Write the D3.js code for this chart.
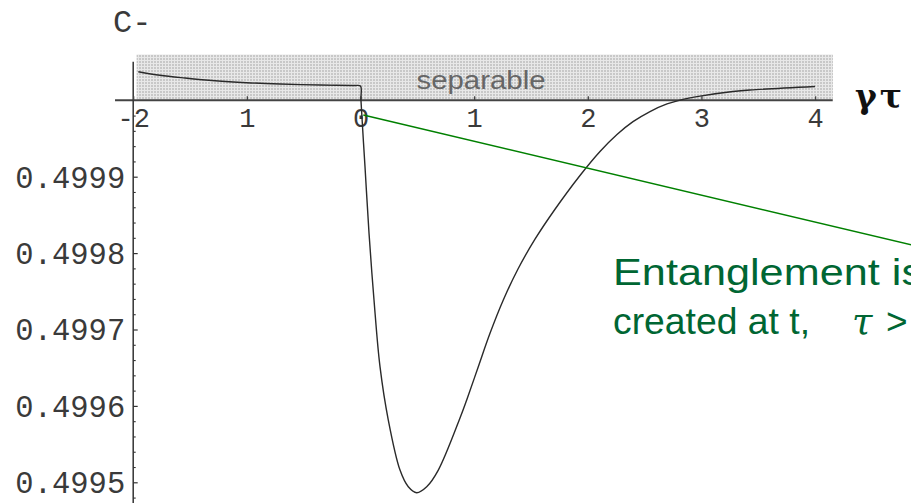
<!DOCTYPE html>
<html>
<head>
<meta charset="utf-8">
<script src="https://cdn.jsdelivr.net/npm/d3@7"></script>
<style>
  html, body { margin: 0; padding: 0; background: #fff; }
  svg { display: block; }
</style>
</head>
<body>
<svg id="chart" width="911" height="503"></svg>
<script>
// C- as a function of gamma*tau
const gammaTau = [-1.9551, -1.7642, -1.5442, -1.2803, -1.0013, -0.7083, -0.3564,
  -0.0484, 0, 0.004,
  0.0396, 0.0748, 0.1188, 0.1716, 0.2446, 0.3476, 0.4206, 0.4945, 0.5825,
  0.6846, 0.8755, 0.9345, 1.0365, 1.1395, 1.2565, 1.3858, 1.5354, 1.7114,
  1.9314, 2.1074, 2.2569, 2.3977, 2.5473, 2.6969, 2.8113, 2.9873, 3.2776,
  3.4272, 3.999];
const cMinus = [0.5000374, 0.5000327, 0.5000291, 0.5000255, 0.5000230, 0.5000213,
  0.5000200, 0.5000194, 0.5000187, 0.5000000,
  0.4999131, 0.4998263, 0.4997386, 0.4996513, 0.4995815, 0.4995160, 0.4994942,
  0.4994864, 0.4994942, 0.4995160, 0.4995841, 0.4996077, 0.4996513, 0.4996950,
  0.4997386, 0.4997792, 0.4998182, 0.4998574, 0.4999016, 0.4999330, 0.4999552,
  0.4999720, 0.4999853, 0.4999952, 0.5000003, 0.5000055, 0.5000115, 0.5000135,
  0.5000181];

// axis ticks
const xTickValues = [-2, -1, 0, 1, 2, 3, 4];
const xTickLabels = ["-2", "1", "0", "1", "2", "3", "4"];
const yTickValues = [0.4995, 0.4996, 0.4997, 0.4998, 0.4999];
const yTickLabels = ["0.4995", "0.4996", "0.4997", "0.4998", "0.4999"];
const yMinorValues = d3.range(0, 28).map(i => +(0.49944 + i * 0.00002).toFixed(5))
  .filter(v => Math.abs((v * 1e4) - Math.round(v * 1e4)) > 1e-6);

// separable band (C- above 1/2)
const bandTau = [-1.97, 4.157];
const bandC = [0.5, 0.50006];

// annotation arrow from the text to the origin
const noteTau = [0.025, 5.2];
const noteC = [0.4999808, 0.4997983];
const noteLine1 = "Entanglement is";
const noteLine2 = ["created at t,", "τ", ">"];

const svg = d3.select("#chart");

const x = d3.scaleLinear().domain([-2, 4]).range([133.2, 815.1]);
const y = d3.scaleLinear().domain([0.4995, 0.5]).range([482.3, 100.3]);

// hatched fill for the separable region
const defs = svg.append("defs");
const pat = defs.append("pattern")
  .attr("id", "grid").attr("patternUnits", "userSpaceOnUse")
  .attr("width", 3).attr("height", 3);
pat.append("rect").attr("width", 3).attr("height", 3).attr("fill", "#c8c8c8");
pat.append("rect").attr("width", 3).attr("height", 1).attr("fill", "#e8e8e8");
pat.append("rect").attr("width", 1).attr("height", 3).attr("fill", "#e8e8e8");

svg.append("rect")
  .attr("x", x(bandTau[0])).attr("y", y(bandC[1]))
  .attr("width", x(bandTau[1]) - x(bandTau[0]))
  .attr("height", y(bandC[0]) - y(bandC[1]))
  .attr("fill", "url(#grid)");

svg.append("text")
  .attr("x", 416.5).attr("y", 88.5)
  .attr("font-family", "Liberation Sans, Arial, sans-serif")
  .attr("font-size", 26)
  .attr("fill", "#666")
  .attr("textLength", 129).attr("lengthAdjust", "spacingAndGlyphs")
  .text("separable");

// axis lines
svg.append("line")
  .attr("x1", x(-2.16)).attr("x2", x(4.155))
  .attr("y1", y(0.5)).attr("y2", y(0.5))
  .attr("stroke", "#444").attr("stroke-width", 2);
svg.append("line")
  .attr("x1", x(-2)).attr("x2", x(-2))
  .attr("y1", y(0.5000505)).attr("y2", y(0.49944))
  .attr("stroke", "#333").attr("stroke-width", 1.5);

const mono = "Liberation Mono, Courier New, monospace";

// x axis ticks pointing up, labels below
const xAxis = d3.axisBottom(x)
  .tickValues(xTickValues)
  .tickSizeInner(-4).tickSizeOuter(0)
  .tickPadding(27)
  .tickFormat((d, i) => xTickLabels[i]);
const gx = svg.append("g").attr("transform", `translate(0,${y(0.5)})`).call(xAxis);
gx.select(".domain").remove();
gx.selectAll(".tick line").attr("stroke", "#444").attr("stroke-width", 1.3);
gx.selectAll(".tick text")
  .attr("font-family", mono).attr("font-size", 27).attr("fill", "#3a3a3a")
  .attr("dy", 0);

// y axis ticks pointing right, labels on the left
const yAxis = d3.axisLeft(y)
  .tickValues(yTickValues)
  .tickSizeInner(-4.5).tickSizeOuter(0)
  .tickPadding(8)
  .tickFormat((d, i) => yTickLabels[i]);
const gy = svg.append("g").attr("transform", `translate(${x(-2)},0)`).call(yAxis);
gy.select(".domain").remove();
gy.selectAll(".tick line").attr("stroke", "#333").attr("stroke-width", 1.2);
gy.selectAll(".tick text")
  .attr("font-family", mono).attr("font-size", 30.5).attr("fill", "#3a3a3a")
  .attr("dy", "0.34em");

const yMinor = d3.axisLeft(y).tickValues(yMinorValues)
  .tickSizeInner(-2.5).tickSizeOuter(0).tickFormat("");
const gym = svg.append("g").attr("transform", `translate(${x(-2)},0)`).call(yMinor);
gym.select(".domain").remove();
gym.selectAll(".tick line").attr("stroke", "#333").attr("stroke-width", 1.1);

// the curve
const pts = gammaTau.map((t, i) => [t, cMinus[i]]);
svg.append("path")
  .datum(pts)
  .attr("fill", "none")
  .attr("stroke", "#2a2a2a")
  .attr("stroke-width", 1.4)
  .attr("d", d3.line().x(d => x(d[0])).y(d => y(d[1])).curve(d3.curveCatmullRom.alpha(0.5)));

// axis titles
svg.append("text")
  .attr("x", 113).attr("y", 32)
  .attr("font-family", mono).attr("font-size", 32).attr("fill", "#3a3a3a")
  .text("C-");
svg.append("text")
  .attr("x", 855).attr("y", 108)
  .attr("font-family", "DejaVu Serif, serif").attr("font-weight", "bold")
  .attr("font-size", 33).attr("fill", "#111")
  .attr("letter-spacing", 3)
  .text("γτ");

// annotation
svg.append("line")
  .attr("x1", x(noteTau[0])).attr("y1", y(noteC[0]))
  .attr("x2", x(noteTau[1])).attr("y2", y(noteC[1]))
  .attr("stroke", "#008000").attr("stroke-width", 1.6);

const note = svg.append("g")
  .attr("font-family", "Liberation Sans, Arial, sans-serif")
  .attr("font-size", 37).attr("fill", "#006633");
note.append("text").attr("x", 613).attr("y", 285)
  .attr("textLength", 310).attr("lengthAdjust", "spacingAndGlyphs")
  .text(noteLine1);
const l2 = note.append("text").attr("y", 334);
l2.append("tspan").attr("x", 613).attr("textLength", 197)
  .attr("lengthAdjust", "spacingAndGlyphs").text(noteLine2[0]);
l2.append("tspan").attr("x", 852).attr("font-family", "DejaVu Serif, serif")
  .attr("font-style", "italic").text(noteLine2[1]);
l2.append("tspan").attr("x", 886).text(noteLine2[2]);
</script>
</body>
</html>
